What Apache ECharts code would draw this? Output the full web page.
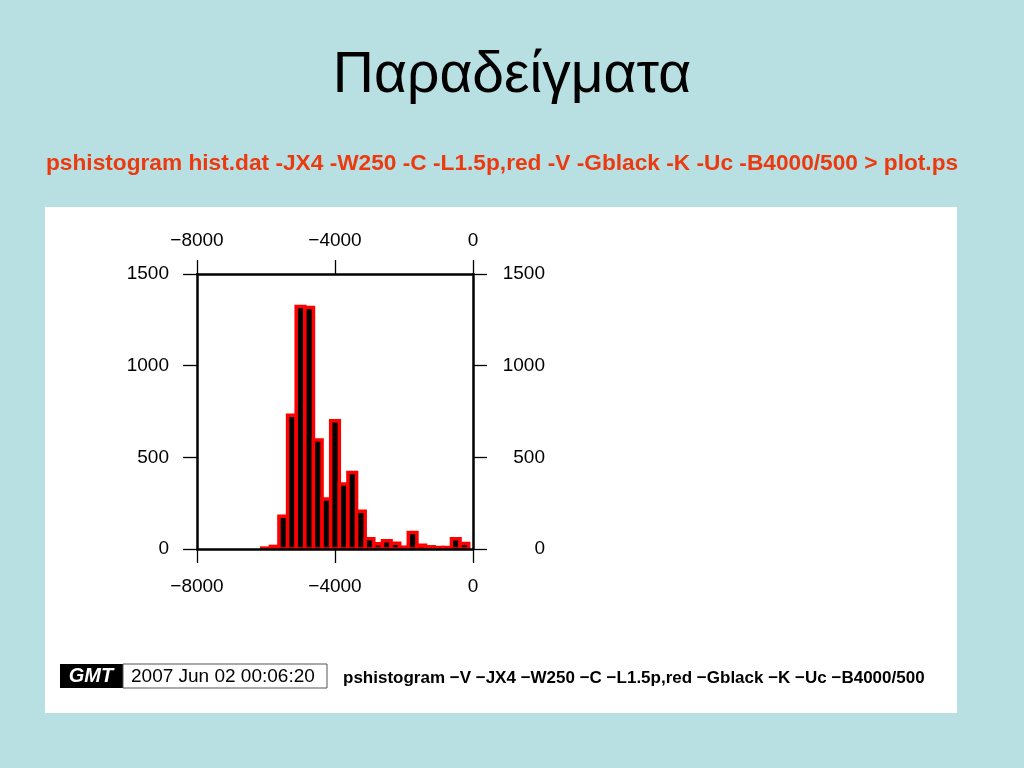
<!DOCTYPE html>
<html>
<head>
<meta charset="utf-8">
<script src="https://cdn.jsdelivr.net/npm/echarts@6/dist/echarts.min.js"></script>
<style>
html,body{margin:0;padding:0;background:#b8dfe2;}
#chart{width:1024px;height:768px;}
</style>
</head>
<body>
<div id="chart"></div>
<script>
// Histogram data (bins centred on multiples of 250, -C)
const binWidth = 250;
const binCenters = [-6000,-5750,-5500,-5250,-5000,-4750,-4500,-4250,-4000,-3750,-3500,-3250,-3000,-2750,-2500,-2250,-2000,-1750,-1500,-1250,-1000,-750,-500,-250];
const counts     = [5,    14,   179,  729,  1323, 1317, 594,  273,  700,  354,  417,  206,  56,   29,   45,   32,   10,   90,   20,   12,   8,    8,   56,  30];
const xTicks = [-8000, -4000, 0];
const yTicks = [0, 500, 1000, 1500];
const titleText = 'Παραδείγματα';
const subtitleText = 'pshistogram hist.dat -JX4 -W250 -C -L1.5p,red -V -Gblack -K -Uc -B4000/500 > plot.ps';
const stampTime = '2007 Jun 02 00:06:20';
const stampCmd = 'pshistogram \u2212V \u2212JX4 \u2212W250 \u2212C \u2212L1.5p,red \u2212Gblack \u2212K \u2212Uc \u2212B4000/500';

const chart = echarts.init(document.getElementById('chart'));
const FONT = '"Liberation Sans", Arial, Helvetica, sans-serif';
const fmt = v => String(v).replace('-', '\u2212');

const axisCommon = {
  min: xTicks[0], max: xTicks[xTicks.length - 1], interval: 4000, z: 5,
  axisLine: {show: true, onZero: false, lineStyle: {color: '#000', width: 2.5}},
  axisTick: {show: true, inside: false, length: 14, lineStyle: {color: '#000', width: 1.3}},
  splitLine: {show: false},
  axisLabel: {color: '#000', fontSize: 19, fontFamily: FONT, formatter: fmt}
};
const yCommon = {
  min: yTicks[0], max: yTicks[yTicks.length - 1], interval: 500, z: 5,
  axisLine: {show: true, onZero: false, lineStyle: {color: '#000', width: 2.5}},
  axisTick: {show: true, inside: false, length: 14, lineStyle: {color: '#000', width: 1.3}},
  splitLine: {show: false},
  axisLabel: {color: '#000', fontSize: 19, fontFamily: FONT, formatter: fmt}
};

chart.setOption({
  backgroundColor: '#b8dfe2',
  animation: false,
  graphic: [
    {type: 'rect', z: -10, shape: {x: 45, y: 207, width: 912, height: 506}, style: {fill: '#ffffff'}},
    {type: 'text', x: 512, y: 76, style: {text: titleText, fontSize: 57, fontFamily: FONT, fill: '#000', align: 'center', verticalAlign: 'middle'}},
    {type: 'text', x: 46, y: 164, style: {text: subtitleText, fontSize: 22.7, fontWeight: 'bold', fontFamily: FONT, fill: '#ec3a10', align: 'left', verticalAlign: 'middle'}},
    {type: 'rect', shape: {x: 60, y: 664, width: 63, height: 24}, style: {fill: '#000'}},
    {type: 'text', x: 91, y: 676, style: {text: 'GMT', fontSize: 20, fontStyle: 'italic', fontWeight: 'bold', fontFamily: FONT, fill: '#fff', align: 'center', verticalAlign: 'middle'}},
    {type: 'rect', shape: {x: 123, y: 664, width: 204, height: 24}, style: {fill: '#fff', stroke: '#555', lineWidth: 1}},
    {type: 'text', x: 131, y: 677, style: {text: stampTime, fontSize: 19, fontFamily: FONT, fill: '#000', align: 'left', verticalAlign: 'middle'}},
    {type: 'text', x: 343, y: 678, style: {text: stampCmd, fontSize: 17, fontWeight: 'bold', fontFamily: FONT, fill: '#000', align: 'left', verticalAlign: 'middle'}}
  ],
  grid: {left: 197, top: 274, width: 276, height: 275, containLabel: false},
  xAxis: [
    Object.assign({}, axisCommon, {type: 'value', position: 'bottom', axisLabel: Object.assign({}, axisCommon.axisLabel, {margin: 28})}),
    Object.assign({}, axisCommon, {type: 'value', position: 'top', axisLabel: Object.assign({}, axisCommon.axisLabel, {margin: 24})})
  ],
  yAxis: [
    Object.assign({}, yCommon, {type: 'value', position: 'left', axisLabel: Object.assign({}, yCommon.axisLabel, {margin: 28})}),
    Object.assign({}, yCommon, {type: 'value', position: 'right', axisLabel: Object.assign({}, yCommon.axisLabel, {margin: 72, align: 'right'})})
  ],
  series: [{
    type: 'custom',
    xAxisIndex: 0, yAxisIndex: 0,
    clip: true,
    z: 2,
    data: binCenters.map((c, i) => [c, counts[i]]),
    renderItem: function (params, api) {
      const c = api.value(0), v = api.value(1);
      if (!v) return null;
      const p1 = api.coord([c - binWidth / 2, v]);
      const p2 = api.coord([c + binWidth / 2, 0]);
      const cs = params.coordSys;
      const shape = echarts.graphic.clipRectByRect(
        {x: p1[0], y: p1[1], width: p2[0] - p1[0], height: p2[1] - p1[1]},
        {x: cs.x, y: cs.y, width: cs.width, height: cs.height}
      );
      return shape && {type: 'rect', shape: shape, style: {fill: '#000', stroke: '#ff0000', lineWidth: 3.5}};
    }
  }]
});
</script>
</body>
</html>
